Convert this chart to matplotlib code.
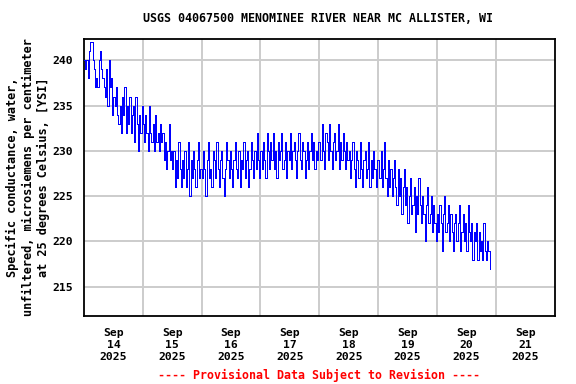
import numpy as np
import pandas as pd
import matplotlib
matplotlib.use("Agg")
import matplotlib.pyplot as plt
import matplotlib.dates as mdates

# 30-minute specific conductance values (uS/cm at 25 C), one list per day
sep14 = [240, 239, 240, 238, 241, 242, 242, 240, 239, 237, 238, 237,
         240, 241, 239, 238, 237, 236, 239, 235, 240, 237, 238, 234,
         236, 235, 237, 234, 233, 235, 232, 236, 234, 237, 232, 235,
         233, 236, 232, 234, 235, 231, 236, 233, 230, 234, 232, 235]
sep15 = [233, 231, 234, 232, 230, 235, 232, 231, 233, 230, 234, 231,
         232, 230, 233, 231, 232, 229, 231, 228, 230, 233, 229, 230,
         228, 230, 226, 229, 227, 231, 228, 226, 229, 227, 230, 226,
         228, 231, 225, 229, 227, 230, 228, 226, 229, 231, 227, 228]
sep16 = [227, 230, 228, 225, 229, 231, 227, 228, 226, 230, 229, 227,
         231, 228, 226, 229, 230, 227, 225, 228, 231, 229, 227, 230,
         228, 226, 229, 231, 228, 227, 230, 226, 229, 228, 231, 227,
         229, 230, 226, 228, 231, 229, 227, 230, 228, 232, 229, 227]
sep17 = [230, 228, 231, 229, 227, 232, 230, 228, 231, 229, 232, 228,
         230, 227, 231, 229, 230, 232, 228, 229, 231, 227, 230, 229,
         232, 228, 230, 231, 229, 227, 230, 232, 229, 228, 231, 230,
         227, 229, 231, 228, 230, 232, 229, 231, 228, 230, 229, 231]
sep18 = [231, 229, 233, 230, 228, 232, 231, 229, 233, 230, 228, 231,
         232, 229, 230, 233, 228, 231, 229, 232, 230, 228, 231, 229,
         230, 227, 229, 231, 228, 226, 230, 229, 227, 231, 228, 226,
         229, 230, 227, 228, 231, 226, 229, 227, 230, 228, 226, 229]
sep19 = [229, 227, 230, 226, 228, 231, 227, 225, 229, 226, 228, 225,
         227, 229, 226, 224, 228, 225, 227, 223, 226, 228, 224, 226,
         222, 225, 227, 223, 224, 226, 221, 225, 223, 227, 224, 222,
         225, 223, 220, 224, 226, 222, 223, 225, 221, 224, 222, 220]
sep20 = [223, 221, 224, 222, 219, 223, 225, 221, 222, 224, 220, 223,
         221, 219, 222, 223, 220, 222, 224, 219, 221, 223, 220, 222,
         219, 224, 221, 220, 222, 218, 221, 220, 222, 218, 221, 219,
         220, 218, 222, 219, 218, 220, 219, 217]

values = sep14 + sep15 + sep16 + sep17 + sep18 + sep19 + sep20
times = pd.date_range("2025-09-14 00:00", periods=len(values), freq="30min")

day_labels = ["Sep\n14\n2025", "Sep\n15\n2025", "Sep\n16\n2025", "Sep\n17\n2025",
              "Sep\n18\n2025", "Sep\n19\n2025", "Sep\n20\n2025", "Sep\n21\n2025"]
y_ticks = [215, 220, 225, 230, 235, 240]

title = "USGS 04067500 MENOMINEE RIVER NEAR MC ALLISTER, WI"
ylabel = "Specific conductance, water,\nunfiltered, microsiemens per centimeter\nat 25 degrees Celsius, [YSI]"
footer = "---- Provisional Data Subject to Revision ----"

font = "DejaVu Sans Mono"

fig = plt.figure(figsize=(5.76, 3.84), dpi=100)
ax = fig.add_axes([84 / 576, 1 - 316 / 384, (554.5 - 84) / 576, (316 - 39.3) / 384])

ax.plot(times, values, color="#0000ff", linewidth=0.6, drawstyle="steps-post",
        antialiased=False, zorder=3)

start = pd.Timestamp("2025-09-14")
ax.set_xlim(mdates.date2num(start), mdates.date2num(start + pd.Timedelta(days=8)))
ax.set_ylim(211.77, 242.32)

midnights = [mdates.date2num(start + pd.Timedelta(days=i)) for i in range(1, 8)]
noons = [mdates.date2num(start + pd.Timedelta(days=i, hours=12)) for i in range(8)]
ax.set_xticks(midnights)
ax.set_xticklabels([""] * len(midnights))
ax.set_xticks(noons, minor=True)
ax.set_xticklabels(day_labels, minor=True, fontfamily=font, fontweight="bold", fontsize=8.2)
ax.tick_params(axis="x", which="both", length=0, pad=9)

ax.set_yticks(y_ticks)
ax.set_yticklabels([str(v) for v in y_ticks], fontfamily=font, fontweight="bold", fontsize=8.2)
ax.tick_params(axis="y", length=0, pad=8)

ax.grid(True, which="major", color="#cccccc", linewidth=1.4, zorder=0)
ax.set_axisbelow(True)
for s in ax.spines.values():
    s.set_linewidth(1.3)
    s.set_color("black")

fig.text(318 / 576, 1 - 19 / 384, title, ha="center", va="center",
         fontfamily=font, fontweight="bold", fontsize=8.4)
fig.text(28 / 576, 1 - 177.5 / 384, ylabel, ha="center", va="center", rotation=90,
         fontfamily=font, fontweight="bold", fontsize=8.6, linespacing=1.2, multialignment="center")
fig.text(319 / 576, 1 - 375 / 384, footer, ha="center", va="center", color="#ff0000",
         fontfamily=font, fontweight="bold", fontsize=8.4)

fig.savefig("out.png", dpi=100)
